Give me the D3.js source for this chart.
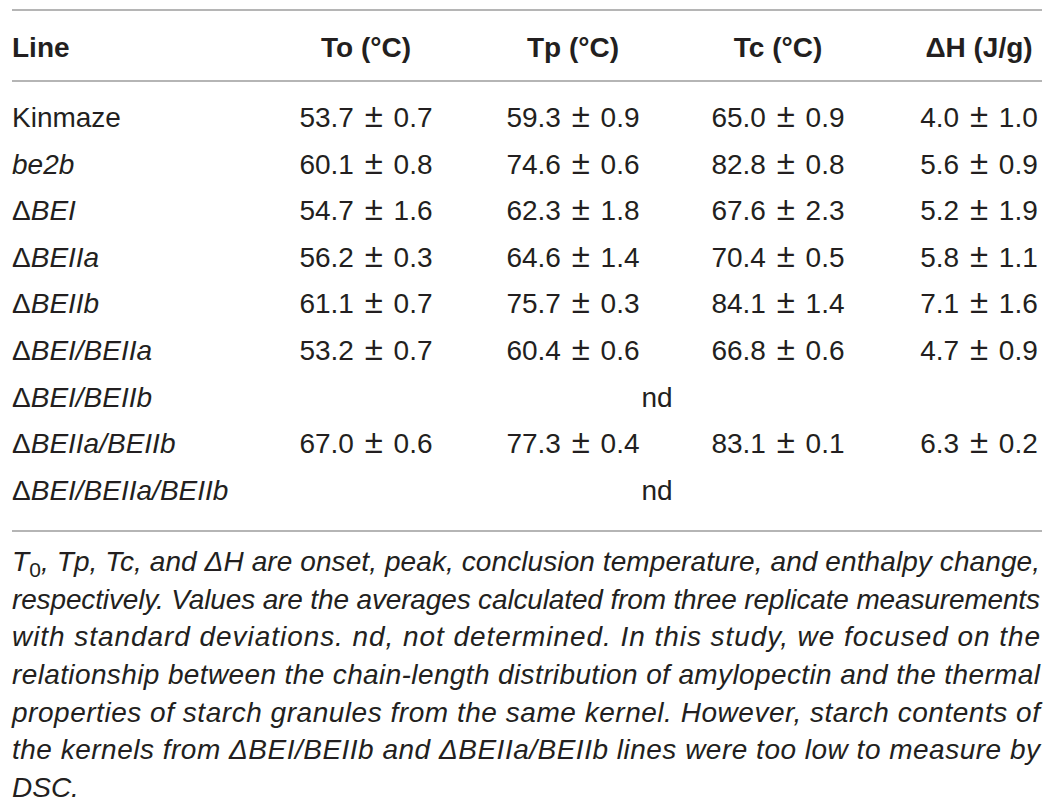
<!DOCTYPE html>
<html>
<head>
<meta charset="utf-8">
<script src="https://cdn.jsdelivr.net/npm/d3@7"></script>
<style>
  body { margin: 0; background: #fff; }
  svg { display: block; font-family: "Liberation Sans", Arial, sans-serif; }
  .rule { stroke: #b5b5b5; stroke-width: 2; }
  .hdr { font-weight: bold; font-size: 28px; fill: #231f20; }
  .cell { font-size: 28px; fill: #231f20; }
  .val { word-spacing: 3px; }
  .note { font-size: 28px; font-style: italic; fill: #231f20; }
</style>
</head>
<body>
<div id="main-chart"></div>
<script>
// line names: [prefix (upright), rest, italic?]
var lines = [
  ["", "Kinmaze", false],
  ["", "be2b", true],
  ["\u0394", "BEI", true],
  ["\u0394", "BEIIa", true],
  ["\u0394", "BEIIb", true],
  ["\u0394", "BEI/BEIIa", true],
  ["\u0394", "BEI/BEIIb", true],
  ["\u0394", "BEIIa/BEIIb", true],
  ["\u0394", "BEI/BEIIa/BEIIb", true]
];
var headers = ["To (\u00b0C)", "Tp (\u00b0C)", "Tc (\u00b0C)", "\u0394H (J/g)"];

// mean, sd per column (null = nd)
var toVals = [[53.7, 0.7], [60.1, 0.8], [54.7, 1.6], [56.2, 0.3], [61.1, 0.7], [53.2, 0.7], null, [67.0, 0.6], null];
var tpVals = [[59.3, 0.9], [74.6, 0.6], [62.3, 1.8], [64.6, 1.4], [75.7, 0.3], [60.4, 0.6], null, [77.3, 0.4], null];
var tcVals = [[65.0, 0.9], [82.8, 0.8], [67.6, 2.3], [70.4, 0.5], [84.1, 1.4], [66.8, 0.6], null, [83.1, 0.1], null];
var dhVals = [[4.0, 1.0], [5.6, 0.9], [5.2, 1.9], [5.8, 1.1], [7.1, 1.6], [4.7, 0.9], null, [6.3, 0.2], null];

var notes = [
  "T|0|, Tp, Tc, and \u0394H are onset, peak, conclusion temperature, and enthalpy change,",
  "respectively. Values are the averages calculated from three replicate measurements",
  "with standard deviations. nd, not determined. In this study, we focused on the",
  "relationship between the chain-length distribution of amylopectin and the thermal",
  "properties of starch granules from the same kernel. However, starch contents of",
  "the kernels from \u0394BEI/BEIIb and \u0394BEIIa/BEIIb lines were too low to measure by",
  "DSC."
];

var W = 1054, H = 805;
var left = 12, right = 1042;
var cols = [toVals, tpVals, tcVals, dhVals];

var svg = d3.select("#main-chart")
  .append("svg")
    .attr("width", W)
    .attr("height", H);

// rows (baseline at band centre)
var y = d3.scaleBand()
  .domain(d3.range(lines.length))
  .range([103.7, 523.1]);

function rowY(i) { return y(i) + y.bandwidth() / 2; }

// column centres
var x = d3.scaleOrdinal()
  .domain(d3.range(4))
  .range([366, 573, 778, 979]);

// rules
svg.selectAll("line.rule")
  .data([10, 81, 531])
  .enter().append("line")
    .attr("class", "rule")
    .attr("x1", left)
    .attr("x2", right)
    .attr("y1", function(d) { return d; })
    .attr("y2", function(d) { return d; });

// header
svg.append("text")
    .attr("class", "hdr")
    .attr("x", left)
    .attr("y", 57)
    .text("Line");

svg.selectAll("text.colhdr")
  .data(headers)
  .enter().append("text")
    .attr("class", "hdr colhdr")
    .attr("text-anchor", "middle")
    .attr("x", function(d, i) { return x(i); })
    .attr("y", 57)
    .text(function(d) { return d; });

// line names
var names = svg.selectAll("text.name")
  .data(lines)
  .enter().append("text")
    .attr("class", "cell name")
    .attr("x", left)
    .attr("y", function(d, i) { return rowY(i); });

names.append("tspan")
    .text(function(d) { return d[0]; });
names.append("tspan")
    .attr("font-style", function(d) { return d[2] ? "italic" : null; })
    .text(function(d) { return d[1]; });

// values
cols.forEach(function(vals, c) {
  var v = svg.selectAll("text.v" + c)
    .data(vals.map(function(d, i) { return [d, i]; }).filter(function(p) { return p[0] !== null; }))
    .enter().append("text")
      .attr("class", "cell val v" + c)
      .attr("text-anchor", "middle")
      .attr("x", x(c))
      .attr("y", function(p) { return rowY(p[1]); });
  v.append("tspan").text(function(p) { return p[0][0].toFixed(1) + " "; });
  v.append("tspan").attr("font-size", "33px").text("\u00b1");
  v.append("tspan").text(function(p) { return " " + p[0][1].toFixed(1); });
});

// nd rows span the four value columns
svg.selectAll("text.nd")
  .data(toVals.map(function(d, i) { return d === null ? i : -1; }).filter(function(i) { return i >= 0; }))
  .enter().append("text")
    .attr("class", "cell nd")
    .attr("text-anchor", "middle")
    .attr("x", 657)
    .attr("y", function(i) { return rowY(i); })
    .text("nd");

// footnote
var noteY = d3.scaleLinear().domain([0, notes.length - 1]).range([571, 797]);

notes.forEach(function(s, i) {
  var t = svg.append("text")
      .attr("class", "note")
      .attr("x", left)
      .attr("y", noteY(i));
  if (i < notes.length - 1) {
    t.attr("textLength", right - left - 2).attr("lengthAdjust", "spacing");
  }
  var parts = s.split("|");
  if (parts.length === 3) {
    t.append("tspan").text(parts[0]);
    t.append("tspan").attr("font-style", "normal").attr("font-size", "21px").attr("dy", 6).text(parts[1]);
    t.append("tspan").attr("dy", -6).text(parts[2]);
  } else {
    t.text(s);
  }
});
</script>
</body>
</html>
